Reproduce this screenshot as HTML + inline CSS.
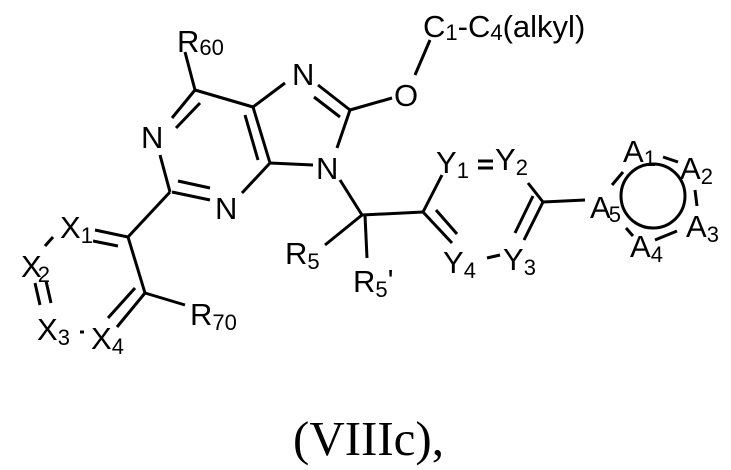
<!DOCTYPE html>
<html><head><meta charset="utf-8"><style>
html,body{margin:0;padding:0;background:#fff;}
svg{display:block;}
text{font-family:"Liberation Sans",Arial,sans-serif;fill:#000;}
.s{font-size:22px;}
</style></head><body>
<svg width="731" height="470" viewBox="0 0 731 470" xmlns="http://www.w3.org/2000/svg">
<g stroke="#000" stroke-width="3" fill="none">
<line x1="185" y1="52" x2="195" y2="90"/>
<line x1="195" y1="90" x2="172" y2="118"/>
<line x1="200" y1="103" x2="176" y2="128"/>
<line x1="195" y1="90" x2="253" y2="107"/>
<line x1="253" y1="107" x2="285" y2="83"/>
<line x1="318" y1="85" x2="350" y2="110"/>
<line x1="314" y1="97" x2="340" y2="117"/>
<line x1="350" y1="110" x2="392" y2="98"/>
<line x1="350" y1="110" x2="337" y2="148"/>
<line x1="253" y1="107" x2="270" y2="163"/>
<line x1="245" y1="115" x2="258" y2="160"/>
<line x1="270" y1="163" x2="313" y2="165"/>
<line x1="270" y1="163" x2="242" y2="193"/>
<line x1="210" y1="200" x2="172" y2="192"/>
<line x1="210" y1="188" x2="178" y2="181"/>
<line x1="160" y1="155" x2="170" y2="192"/>
<line x1="170" y1="192" x2="128" y2="237"/>
<line x1="95" y1="230" x2="128" y2="237"/>
<line x1="93" y1="241" x2="118" y2="246"/>
<line x1="128" y1="237" x2="145" y2="293"/>
<line x1="145" y1="293" x2="185" y2="305"/>
<line x1="145" y1="293" x2="117" y2="327"/>
<line x1="135" y1="288" x2="108" y2="318"/>
<line x1="45" y1="246" x2="53" y2="237"/>
<line x1="35" y1="283" x2="40" y2="305"/>
<line x1="46" y1="281" x2="51" y2="303"/>
<line x1="80" y1="332" x2="84" y2="332"/>
<line x1="340" y1="180" x2="362" y2="215"/>
<line x1="325" y1="245" x2="362" y2="215"/>
<line x1="365" y1="215" x2="367" y2="258"/>
<line x1="430" y1="40" x2="415" y2="75"/>
<line x1="362" y1="215" x2="423" y2="212"/>
<line x1="423" y1="212" x2="442" y2="175"/>
<line x1="423" y1="212" x2="452" y2="243"/>
<line x1="436" y1="210" x2="457" y2="234"/>
<line x1="478" y1="161" x2="493" y2="161"/>
<line x1="478" y1="168" x2="493" y2="168"/>
<line x1="487" y1="258" x2="500" y2="255"/>
<line x1="524" y1="240" x2="543" y2="202"/>
<line x1="515" y1="233" x2="533" y2="196"/>
<line x1="528" y1="183" x2="543" y2="202"/>
<line x1="543" y1="202" x2="585" y2="200"/>
<circle cx="653" cy="196" r="32"/>
<line x1="663" y1="157" x2="678" y2="162"/>
<line x1="612" y1="185" x2="623" y2="172"/>
<line x1="695" y1="190" x2="697" y2="206"/>
<line x1="655" y1="240" x2="677" y2="231"/>
<line x1="626" y1="228" x2="633" y2="236"/>
</g>
<g font-size="31">
<text x="177" y="52">R<tspan class="s" dy="3">60</tspan></text>
<text x="141" y="148">N</text>
<text x="292" y="85">N</text>
<text x="316" y="179">N</text>
<text x="215" y="219">N</text>
<text x="394" y="106">O</text>
<text x="423" y="37">C<tspan class="s" dy="3">1</tspan><tspan dy="-3">-C</tspan><tspan class="s" dy="3">4</tspan><tspan dy="-3">(alkyl)</tspan></text>
<text x="60" y="238">X<tspan class="s" dy="5">1</tspan></text>
<text x="21" y="277">X<tspan class="s" dy="5" dx="-4">2</tspan></text>
<text x="37" y="340">X<tspan class="s" dy="5">3</tspan></text>
<text x="91" y="349">X<tspan class="s" dy="5">4</tspan></text>
<text x="190" y="325">R<tspan class="s" dy="5">70</tspan></text>
<text x="285" y="264">R<tspan class="s" dy="5">5</tspan></text>
<text x="353" y="292">R<tspan class="s" dy="5">5</tspan><tspan dy="-6">'</tspan></text>
<text x="436" y="173">Y<tspan class="s" dy="5">1</tspan></text>
<text x="495" y="170">Y<tspan class="s" dy="5">2</tspan></text>
<text x="443" y="273">Y<tspan class="s" dy="5">4</tspan></text>
<text x="503" y="270">Y<tspan class="s" dy="5">3</tspan></text>
<text x="590" y="218">A<tspan class="s" dy="4" dx="-2">5</tspan></text>
<text x="623" y="162">A<tspan class="s" dy="4">1</tspan></text>
<text x="680" y="179">A<tspan class="s" dy="5">2</tspan></text>
<text x="686" y="237">A<tspan class="s" dy="5">3</tspan></text>
<text x="630" y="257">A<tspan class="s" dy="5">4</tspan></text>
</g>
<text x="293" y="455" style="font-family:'Liberation Serif',serif;font-size:49px;">(VIIIc),</text>
</svg>
</body></html>
